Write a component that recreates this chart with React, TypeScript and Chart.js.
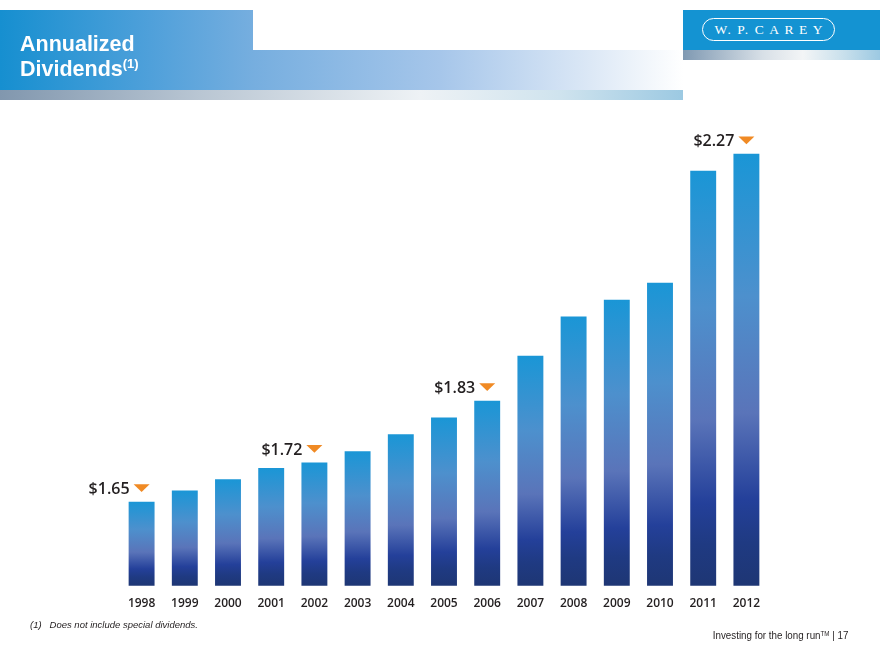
import React, { useEffect, useRef } from "react";
import { Chart, registerables } from "chart.js";

Chart.register(...registerables);

const years = ["1998", "1999", "2000", "2001", "2002", "2003", "2004", "2005", "2006", "2007", "2008", "2009", "2010", "2011", "2012"];
const dividends = [1.65, 1.67, 1.69, 1.71, 1.72, 1.74, 1.77, 1.8, 1.83, 1.91, 1.98, 2.01, 2.04, 2.24, 2.27];
const labeledYears = ["1998", "2002", "2006", "2012"];
const yMin = 1.5;
const yMax = 2.3;

const labelPlugin = {
  id: "valueLabels",
  afterDatasetsDraw(chart: any) {
    const ctx = chart.ctx;
    const meta = chart.getDatasetMeta(0);
    ctx.save();
    labeledYears.forEach((yr) => {
      const i = years.indexOf(yr);
      const bar = meta.data[i];
      if (!bar) return;
      const x = bar.x;
      const cy = bar.y - 13.5;
      ctx.fillStyle = "#F08A24";
      ctx.beginPath();
      ctx.moveTo(x - 8, cy - 3.8);
      ctx.lineTo(x + 8, cy - 3.8);
      ctx.lineTo(x, cy + 3.8);
      ctx.closePath();
      ctx.fill();
      ctx.font = '600 16px "Open Sans"';
      ctx.textAlign = "right";
      ctx.textBaseline = "alphabetic";
      ctx.fillStyle = "#231F20";
      ctx.fillText("$" + dividends[i].toFixed(2), x - 12, cy + 6);
    });
    ctx.restore();
  },
};

export default function App() {
  const ref = useRef<HTMLCanvasElement>(null);

  useEffect(() => {
    if (!ref.current) return;
    const chart = new Chart(ref.current, {
      type: "bar",
      data: {
        labels: years,
        datasets: [
          {
            data: dividends,
            backgroundColor: (c: any) => {
              const ch = c.chart;
              if (!ch.chartArea) return "#4a8fcc";
              const ys = ch.scales.y;
              const v = dividends[c.dataIndex];
              const top = ys.getPixelForValue(v);
              const bottom = ys.getPixelForValue(yMin);
              const g = ch.ctx.createLinearGradient(0, top, 0, bottom);
              g.addColorStop(0, "#1A96D6");
              g.addColorStop(0.33, "#4D90CD");
              g.addColorStop(0.6, "#5A74B9");
              g.addColorStop(0.8, "#24409A");
              g.addColorStop(0.9, "#1F3A82");
              g.addColorStop(1, "#1E3674");
              return g;
            },
            borderWidth: 0,
            barPercentage: 0.6,
            categoryPercentage: 1,
          },
        ],
      },
      options: {
        responsive: false,
        animation: false,
        layout: { padding: { left: 120, right: 112, top: 137, bottom: 46.2 } },
        plugins: { legend: { display: false }, tooltip: { enabled: false } },
        scales: {
          x: {
            grid: { display: false },
            border: { display: false },
            ticks: {
              color: "#231F20",
              font: { family: '"Open Sans"', size: 12, weight: "600" as any },
              padding: 2.8,
              maxRotation: 0,
              autoSkip: false,
            },
          },
          y: { display: false, min: yMin, max: yMax },
        },
      },
      plugins: [labelPlugin],
    });
    return () => chart.destroy();
  }, []);

  const bandGrad =
    "linear-gradient(to right, #168FD0 0px, #4FA0DA 150px, #76AEDF 253px, #A6C6EA 440px, #DCE8F6 590px, #FFFFFF 683px)";

  return (
    <div style={{ position: "absolute", left: 0, top: 0, width: 880, height: 660, background: "#fff", overflow: "hidden" }}>
      <canvas ref={ref} width={880} height={660} style={{ position: "absolute", left: 0, top: 0, display: "block" }} />
      {/* header band */}
      <div style={{ position: "absolute", left: 0, top: 10, width: 253, height: 40, background: bandGrad, backgroundSize: "683px 40px" }} />
      <div style={{ position: "absolute", left: 0, top: 50, width: 683, height: 40, background: bandGrad, backgroundSize: "683px 40px" }} />
      <div
        style={{
          position: "absolute",
          left: 0,
          top: 90,
          width: 683,
          height: 10,
          background: "linear-gradient(to right, #8197AE 0px, #B9C6D3 200px, #EEF2F5 420px, #CFE3EE 560px, #9CC9E2 683px)",
        }}
      />
      {/* logo */}
      <div style={{ position: "absolute", left: 683, top: 10, width: 197, height: 40, background: "#1493D2" }} />
      <div
        style={{
          position: "absolute",
          left: 683,
          top: 50,
          width: 197,
          height: 10,
          background: "linear-gradient(to right, #7F99B2 0px, #D8E0E7 80px, #F3F5F6 120px, #C9E0EC 160px, #9CC9E2 197px)",
        }}
      />
      <div
        style={{
          position: "absolute",
          left: 702,
          top: 18,
          width: 131,
          height: 21,
          border: "1.2px solid #FFFFFF",
          borderRadius: 12,
          color: "#FFFFFF",
          fontFamily: '"Liberation Serif", "DejaVu Serif", serif',
          fontSize: 13.5,
          lineHeight: "21px",
          display: "flex",
          justifyContent: "center",
          alignItems: "center",
          whiteSpace: "pre",
        }}
      >
        <span style={{ letterSpacing: 1.5 }}>{"W. P. "}</span>
        <span style={{ letterSpacing: 5.5, marginRight: -5.5 }}>CAREY</span>
      </div>
      {/* title */}
      <div
        style={{
          position: "absolute",
          left: 20,
          top: 33.5,
          color: "#FFFFFF",
          fontFamily: '"Liberation Sans", Arial, sans-serif',
          fontWeight: 700,
          fontSize: 21.5,
          lineHeight: "21.5px",
          whiteSpace: "nowrap",
        }}
      >
        Annualized
      </div>
      <div
        style={{
          position: "absolute",
          left: 20,
          top: 58.5,
          color: "#FFFFFF",
          fontFamily: '"Liberation Sans", Arial, sans-serif',
          fontWeight: 700,
          fontSize: 21.5,
          lineHeight: "21.5px",
          whiteSpace: "nowrap",
        }}
      >
        Dividends
        <span style={{ fontSize: 13, position: "relative", top: -8 }}>(1)</span>
      </div>
      {/* footer */}
      <div
        style={{
          position: "absolute",
          left: 30,
          top: 619,
          color: "#231F20",
          fontFamily: '"Liberation Sans", Arial, sans-serif',
          fontStyle: "italic",
          fontSize: 9.5,
          lineHeight: "11px",
          whiteSpace: "pre",
        }}
      >
        {"(1)   Does not include special dividends."}
      </div>
      <div
        style={{
          position: "absolute",
          right: 32,
          top: 629,
          color: "#231F20",
          fontFamily: '"Liberation Sans", Arial, sans-serif',
          fontSize: 11,
          lineHeight: "13px",
          whiteSpace: "nowrap",
          transform: "scaleX(0.89)",
          transformOrigin: "right center",
        }}
      >
        Investing for the long run<sup style={{ fontSize: 7, verticalAlign: "top", position: "relative", top: -2 }}>TM</sup> | 17
      </div>
    </div>
  );
}
